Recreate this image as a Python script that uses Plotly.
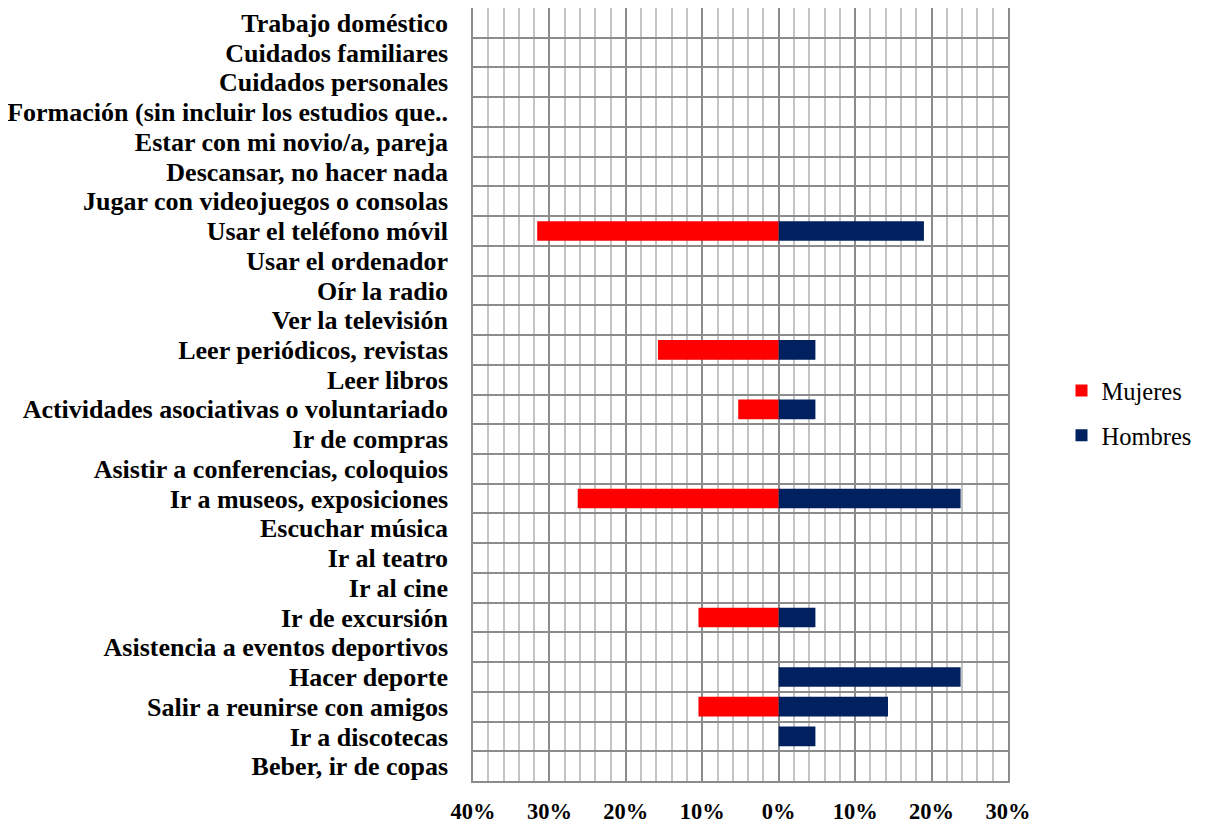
import plotly.graph_objects as go

categories = [
    "Trabajo doméstico",
    "Cuidados familiares",
    "Cuidados personales",
    "Formación (sin incluir los estudios que..",
    "Estar con mi novio/a, pareja",
    "Descansar, no hacer nada",
    "Jugar con videojuegos o consolas",
    "Usar el teléfono móvil",
    "Usar el ordenador",
    "Oír la radio",
    "Ver la televisión",
    "Leer periódicos, revistas",
    "Leer libros",
    "Actividades asociativas o voluntariado",
    "Ir de compras",
    "Asistir a conferencias, coloquios",
    "Ir a museos, exposiciones",
    "Escuchar música",
    "Ir al teatro",
    "Ir al cine",
    "Ir de excursión",
    "Asistencia a eventos deportivos",
    "Hacer deporte",
    "Salir a reunirse con amigos",
    "Ir a discotecas",
    "Beber, ir de copas",
]

mujeres = [0, 0, 0, 0, 0, 0, 0, 31.6, 0, 0, 0, 15.8, 0, 5.3, 0, 0, 26.3, 0, 0, 0, 10.5, 0, 0, 10.5, 0, 0]
hombres = [0, 0, 0, 0, 0, 0, 0, 19.0, 0, 0, 0, 4.8, 0, 4.8, 0, 0, 23.8, 0, 0, 0, 4.8, 0, 23.8, 14.3, 4.8, 0]

x_tickvals = [-40, -30, -20, -10, 0, 10, 20, 30]
x_ticktext = ["40%", "30%", "20%", "10%", "0%", "10%", "20%", "30%"]

FONT = "Times New Roman, Liberation Serif, serif"

fig = go.Figure()
fig.add_trace(go.Bar(
    y=categories, x=[-v for v in mujeres], orientation="h", name="Mujeres",
    marker=dict(color="#FF0000", line=dict(width=0)), width=0.66,
    legendgroup="m",
))
fig.add_trace(go.Bar(
    y=categories, x=hombres, orientation="h", name="Hombres",
    marker=dict(color="#002060", line=dict(width=0)), width=0.66,
    legendgroup="h",
))

fig.update_layout(
    width=1206, height=830,
    barmode="relative",
    plot_bgcolor="white", paper_bgcolor="white",
    margin=dict(l=465, r=206, t=0, b=57, autoexpand=False),
    font=dict(family=FONT, color="black"),
    showlegend=True,
    legend=dict(
        x=1.1, xanchor="left", y=0.476, yanchor="middle",
        font=dict(family=FONT, size=24.5, color="black"),
        traceorder="grouped", tracegroupgap=10,
        itemwidth=30,
    ),
    xaxis=dict(
        range=[-40, 30], tickvals=x_tickvals, ticktext=x_ticktext,
        tickfont=dict(family=FONT, size=22.5, color="black", weight="bold"),
        showgrid=True, gridcolor="#8c8c8c", gridwidth=1.5,
        minor=dict(dtick=2, tick0=0, showgrid=True, gridcolor="#c4c4c4", gridwidth=1.5),
        showline=True, linecolor="#8c8c8c", linewidth=1.5, mirror=True,
        zeroline=False, ticks="", ticklabelstandoff=9, automargin=False,
    ),
    yaxis=dict(
        type="category", categoryorder="array", categoryarray=categories,
        autorange="reversed", tickson="boundaries",
        tickmode="linear", tick0=0, dtick=1,
        tickfont=dict(family=FONT, size=26, color="black", weight="bold"),
        showgrid=True, gridcolor="#8c8c8c", gridwidth=1.5,
        showline=True, linecolor="#8c8c8c", linewidth=1.5, mirror=True,
        ticks="", ticklabelstandoff=18, zeroline=False, automargin=False,
    ),
)

fig.write_html("out.html")
